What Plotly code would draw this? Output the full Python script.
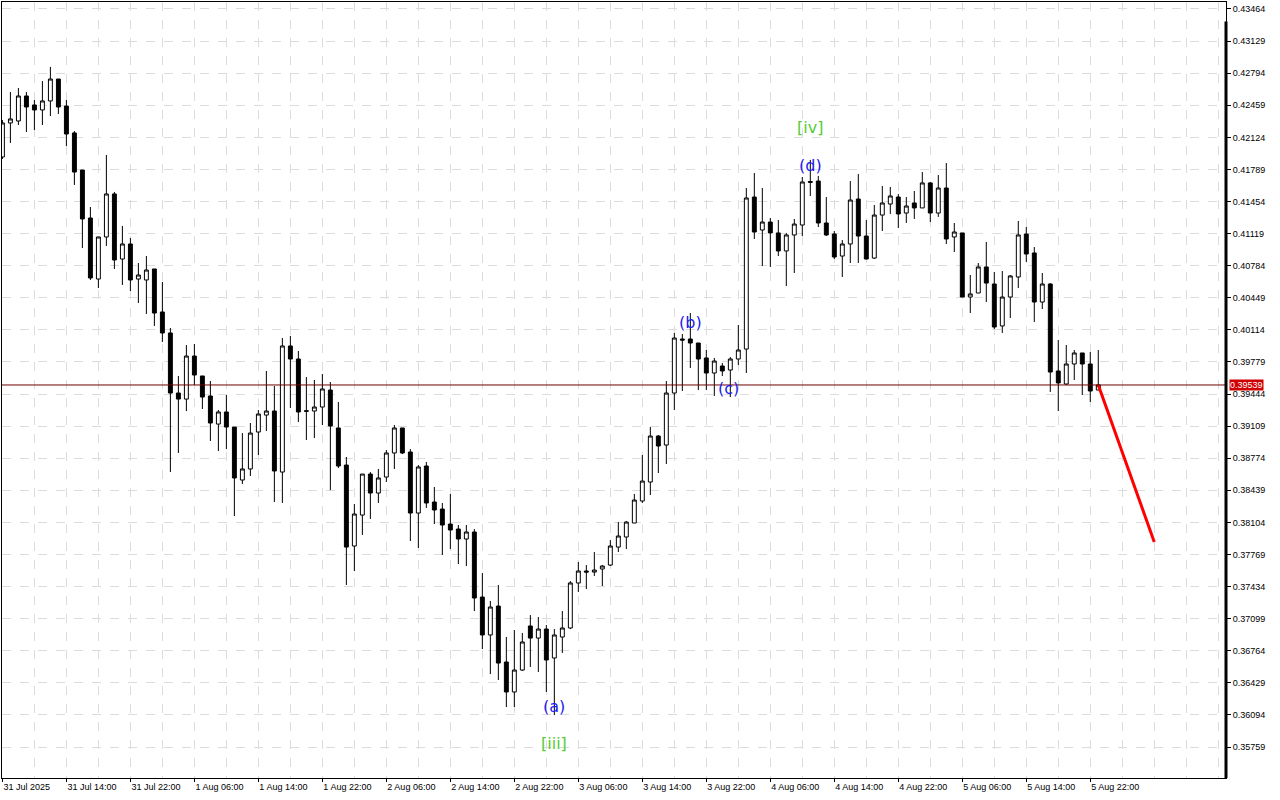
import pandas as pd
import plotly.graph_objects as go

# ---------------- data (hourly candles) ----------------
start_time = "2025-07-31 06:00"

open_prices = [
    0.41919, 0.42274, 0.42295, 0.42556, 0.42462, 0.42410, 0.42504, 0.42733, 0.42451, 0.42170,
    0.41783, 0.41282, 0.40645, 0.41084, 0.41533, 0.40854, 0.41011, 0.40645, 0.40635, 0.40750,
    0.40301, 0.40082, 0.39455, 0.39392, 0.39841, 0.39633, 0.39424, 0.39131, 0.39257, 0.39100,
    0.38547, 0.38662, 0.39048, 0.39225, 0.39267, 0.38630, 0.39946, 0.39810, 0.39270, 0.39267,
    0.39309, 0.39486, 0.39090, 0.38703, 0.37858, 0.38181, 0.38609, 0.38411, 0.38578, 0.38829,
    0.39090, 0.38839, 0.38202, 0.38693, 0.38317, 0.38244, 0.38087, 0.38035, 0.37931, 0.38004,
    0.37325, 0.36929, 0.37231, 0.36647, 0.36334, 0.36563, 0.37023, 0.36897, 0.36991, 0.36689,
    0.36908, 0.37002, 0.37472, 0.37597, 0.37586, 0.37618, 0.37659, 0.37847, 0.37952, 0.38098,
    0.38328, 0.38526, 0.39006, 0.38912, 0.39455, 0.40019, 0.40019, 0.39977, 0.39821, 0.39664,
    0.39737, 0.39695, 0.39810, 0.39914, 0.41501, 0.41157, 0.41240, 0.41126, 0.40938, 0.41105,
    0.41209, 0.41663, 0.41668, 0.41230, 0.41115, 0.40885, 0.41011, 0.41480, 0.41094, 0.40864,
    0.41313, 0.41428, 0.41501, 0.41334, 0.41439, 0.41387, 0.41648, 0.41334, 0.41595, 0.41084,
    0.41126, 0.40457, 0.40499, 0.40771, 0.40593, 0.40155, 0.40457, 0.40666, 0.41115, 0.40917,
    0.40405, 0.40593, 0.39685, 0.39549, 0.39758, 0.39873, 0.39758, 0.39486,
]
high_prices = [
    0.42305, 0.42598, 0.42639, 0.42598, 0.42514, 0.42712, 0.42859, 0.42733, 0.42514, 0.42190,
    0.41783, 0.41397, 0.41084, 0.41940, 0.41554, 0.41199, 0.41073, 0.40812, 0.40885, 0.40750,
    0.40614, 0.40134, 0.39633, 0.39956, 0.39967, 0.39633, 0.39580, 0.39278, 0.39434, 0.39100,
    0.39037, 0.39142, 0.39278, 0.39685, 0.39528, 0.40029, 0.40050, 0.39894, 0.39622, 0.39591,
    0.39653, 0.39570, 0.39361, 0.38787, 0.38296, 0.38609, 0.38630, 0.38662, 0.38860, 0.39121,
    0.39090, 0.38870, 0.38703, 0.38735, 0.38474, 0.38307, 0.38401, 0.38077, 0.38077, 0.38035,
    0.37576, 0.37284, 0.37451, 0.36908, 0.36981, 0.36950, 0.37137, 0.37117, 0.37033, 0.36991,
    0.37179, 0.37492, 0.37691, 0.37659, 0.37795, 0.37659, 0.37920, 0.38108, 0.38119, 0.38401,
    0.38808, 0.39100, 0.39017, 0.39580, 0.40082, 0.40071, 0.40290, 0.39977, 0.39904, 0.39821,
    0.39768, 0.39831, 0.40165, 0.41595, 0.41752, 0.41595, 0.41282, 0.41261, 0.41126, 0.41272,
    0.41710, 0.41888, 0.41721, 0.41501, 0.41146, 0.41052, 0.41668, 0.41741, 0.41261, 0.41418,
    0.41616, 0.41606, 0.41533, 0.41501, 0.41564, 0.41762, 0.41658, 0.41731, 0.41856, 0.41230,
    0.41126, 0.40687, 0.40812, 0.41032, 0.40718, 0.40729, 0.40687, 0.41251, 0.41188, 0.40979,
    0.40708, 0.40603, 0.40008, 0.39956, 0.39904, 0.39873, 0.39883, 0.39904,
]
low_prices = [
    0.41898, 0.42065, 0.42253, 0.42180, 0.42201, 0.42253, 0.42347, 0.42368, 0.42034, 0.41627,
    0.40969, 0.40635, 0.40551, 0.40990, 0.40750, 0.40583, 0.40520, 0.40395, 0.40280, 0.40155,
    0.39988, 0.38630, 0.38829, 0.39267, 0.39539, 0.39288, 0.38954, 0.38850, 0.38870, 0.38171,
    0.38505, 0.38589, 0.38808, 0.39058, 0.38317, 0.38307, 0.39299, 0.39152, 0.38964, 0.38985,
    0.39121, 0.38442, 0.38672, 0.37451, 0.37597, 0.37973, 0.38140, 0.38307, 0.38526, 0.38662,
    0.38818, 0.37910, 0.37837, 0.38255, 0.38087, 0.37764, 0.37826, 0.37670, 0.37649, 0.37179,
    0.36782, 0.36521, 0.36459, 0.36177, 0.36177, 0.36553, 0.36595, 0.36542, 0.36334, 0.36093,
    0.36741, 0.36991, 0.37378, 0.37409, 0.37545, 0.37440, 0.37649, 0.37795, 0.37826, 0.38098,
    0.38307, 0.38390, 0.38620, 0.38714, 0.39278, 0.39476, 0.39716, 0.39486, 0.39486, 0.39424,
    0.39633, 0.39413, 0.39747, 0.39664, 0.41063, 0.40781, 0.40771, 0.40885, 0.40572, 0.40708,
    0.41094, 0.41512, 0.41188, 0.41094, 0.40854, 0.40666, 0.40812, 0.40812, 0.40850, 0.40854,
    0.41146, 0.41324, 0.41178, 0.41230, 0.41272, 0.41387, 0.41240, 0.41293, 0.41011, 0.40927,
    0.40457, 0.40290, 0.40499, 0.40405, 0.40123, 0.40082, 0.40238, 0.40551, 0.40823, 0.40196,
    0.40332, 0.39466, 0.39267, 0.39539, 0.39591, 0.39434, 0.39361, 0.39486,
]
close_prices = [
    0.42274, 0.42316, 0.42556, 0.42441, 0.42410, 0.42504, 0.42733, 0.42441, 0.42159, 0.41762,
    0.41272, 0.40656, 0.41084, 0.41533, 0.40844, 0.41011, 0.40635, 0.40687, 0.40739, 0.40290,
    0.40082, 0.39455, 0.39392, 0.39841, 0.39643, 0.39413, 0.39142, 0.39257, 0.39100, 0.38568,
    0.38662, 0.39037, 0.39236, 0.39267, 0.38641, 0.39946, 0.39810, 0.39257, 0.39265, 0.39309,
    0.39497, 0.39111, 0.38693, 0.37847, 0.38192, 0.38609, 0.38411, 0.38568, 0.38829, 0.39090,
    0.38829, 0.38202, 0.38683, 0.38307, 0.38234, 0.38077, 0.38025, 0.37931, 0.38004, 0.37315,
    0.36929, 0.37221, 0.36636, 0.36334, 0.36563, 0.36856, 0.36897, 0.36991, 0.36668, 0.36929,
    0.37002, 0.37472, 0.37597, 0.37586, 0.37607, 0.37649, 0.37858, 0.37962, 0.38108, 0.38338,
    0.38536, 0.39006, 0.38902, 0.39455, 0.40029, 0.40008, 0.39977, 0.39810, 0.39664, 0.39789,
    0.39685, 0.39810, 0.39904, 0.41491, 0.41136, 0.41240, 0.41126, 0.40938, 0.41105, 0.41219,
    0.41658, 0.41655, 0.41230, 0.41105, 0.40875, 0.41011, 0.41470, 0.41094, 0.40854, 0.41313,
    0.41439, 0.41512, 0.41324, 0.41407, 0.41387, 0.41648, 0.41334, 0.41595, 0.41063, 0.41136,
    0.40457, 0.40489, 0.40771, 0.40603, 0.40144, 0.40457, 0.40677, 0.41105, 0.40906, 0.40405,
    0.40593, 0.39674, 0.39560, 0.39758, 0.39873, 0.39758, 0.39476, 0.39539,
]

current_price = 0.39539

forecast_times = ["2025-08-05 23:00", "2025-08-06 06:00"]
forecast_prices = [0.39539, 0.37900]

wave_labels = ["[iii]", "(a)", "(b)", "(c)", "(d)", "[iv]"]
wave_times = ["2025-08-03 03:00", "2025-08-03 03:00", "2025-08-03 20:00",
              "2025-08-04 00:50", "2025-08-04 11:00", "2025-08-04 11:00"]
wave_prices = [0.35791, 0.36187, 0.40196, 0.39497, 0.41825, 0.42232]
wave_colors = ["#55cc33", "#1c1cf0", "#1c1cf0", "#1c1cf0", "#1c1cf0", "#55cc33"]

x_tick_times = [
    "2025-07-31 06:00", "2025-07-31 14:00", "2025-07-31 22:00",
    "2025-08-01 06:00", "2025-08-01 14:00", "2025-08-01 22:00",
    "2025-08-02 06:00", "2025-08-02 14:00", "2025-08-02 22:00",
    "2025-08-03 06:00", "2025-08-03 14:00", "2025-08-03 22:00",
    "2025-08-04 06:00", "2025-08-04 14:00", "2025-08-04 22:00",
    "2025-08-05 06:00", "2025-08-05 14:00", "2025-08-05 22:00",
]
x_tick_labels = [
    "31 Jul 2025", "31 Jul 14:00", "31 Jul 22:00",
    "1 Aug 06:00", "1 Aug 14:00", "1 Aug 22:00",
    "2 Aug 06:00", "2 Aug 14:00", "2 Aug 22:00",
    "3 Aug 06:00", "3 Aug 14:00", "3 Aug 22:00",
    "4 Aug 06:00", "4 Aug 14:00", "4 Aug 22:00",
    "5 Aug 06:00", "5 Aug 14:00", "5 Aug 22:00",
]
y_tick_values = [
    0.43464, 0.43129, 0.42794, 0.42459, 0.42124, 0.41789, 0.41454, 0.41119,
    0.40784, 0.40449, 0.40114, 0.39779, 0.39444, 0.39109, 0.38774, 0.38439,
    0.38104, 0.37769, 0.37434, 0.37099, 0.36764, 0.36429, 0.36094, 0.35759,
]

times = pd.date_range(start_time, periods=len(open_prices), freq="h")

# ---------------- figure ----------------
fig = go.Figure()

fig.add_trace(go.Candlestick(
    x=times, open=open_prices, high=high_prices, low=low_prices, close=close_prices,
    increasing=dict(line=dict(color="black", width=1), fillcolor="white"),
    decreasing=dict(line=dict(color="black", width=1), fillcolor="black"),
    whiskerwidth=0, hoverinfo="skip", showlegend=False,
))

fig.add_trace(go.Scatter(
    x=forecast_times, y=forecast_prices, mode="lines",
    line=dict(color="#ff0000", width=3), hoverinfo="skip", showlegend=False,
))

# current price line
fig.add_hline(y=current_price, line=dict(color="#700000", width=1))

for lab, t, p, c in zip(wave_labels, wave_times, wave_prices, wave_colors):
    fig.add_annotation(x=t, y=p, text=lab, showarrow=False,
                       font=dict(family="DejaVu Sans", size=16, color=c),
                       xanchor="center", yanchor="middle")

# price tag on the axis
fig.add_annotation(xref="paper", x=1, y=current_price, yref="y",
                   text=f"{current_price:.5f}", showarrow=False,
                   xanchor="left", yanchor="middle", xshift=3,
                   bgcolor="#d00000", borderpad=0,
                   font=dict(family="Liberation Sans", size=9, color="white"))

# thicker right axis line
fig.add_shape(type="line", xref="paper", yref="paper", x0=1, x1=1, y0=0, y1=0.975,
              line=dict(color="black", width=3))

grid_color = "#dcdcdc"
fig.update_xaxes(
    type="date",
    range=["2025-07-31 05:57", "2025-08-06 14:58"],
    tickvals=x_tick_times, ticktext=x_tick_labels,
    ticklabelposition="outside right",
    ticks="outside", ticklen=3, tickcolor="black",
    showgrid=True, gridcolor=grid_color, griddash="dash", gridwidth=1,
    minor=dict(dtick=4 * 3600 * 1000, tick0="2025-07-31 06:00",
               showgrid=True, gridcolor=grid_color, griddash="dash", ticks=""),
    showline=True, linecolor="black", linewidth=1, mirror=True,
    rangeslider=dict(visible=False),
    tickfont=dict(family="Liberation Sans", size=9, color="black"),
    zeroline=False, fixedrange=True,
)
fig.update_yaxes(
    side="right",
    range=[0.35436, 0.43537],
    tickvals=y_tick_values, ticktext=[f"{v:.5f}" for v in y_tick_values],
    ticks="outside", ticklen=4, tickcolor="black",
    showgrid=True, gridcolor=grid_color, griddash="dash", gridwidth=1,
    showline=True, linecolor="black", linewidth=1, mirror=True,
    tickfont=dict(family="Liberation Sans", size=9, color="black"),
    zeroline=False, fixedrange=True,
)

fig.update_layout(
    width=1280, height=800,
    margin=dict(l=2, r=54, t=2, b=22),
    paper_bgcolor="white", plot_bgcolor="white",
    showlegend=False,
)

fig.write_html("out.html", config={"displayModeBar": False},
               post_script="document.body.style.margin='0px';")
